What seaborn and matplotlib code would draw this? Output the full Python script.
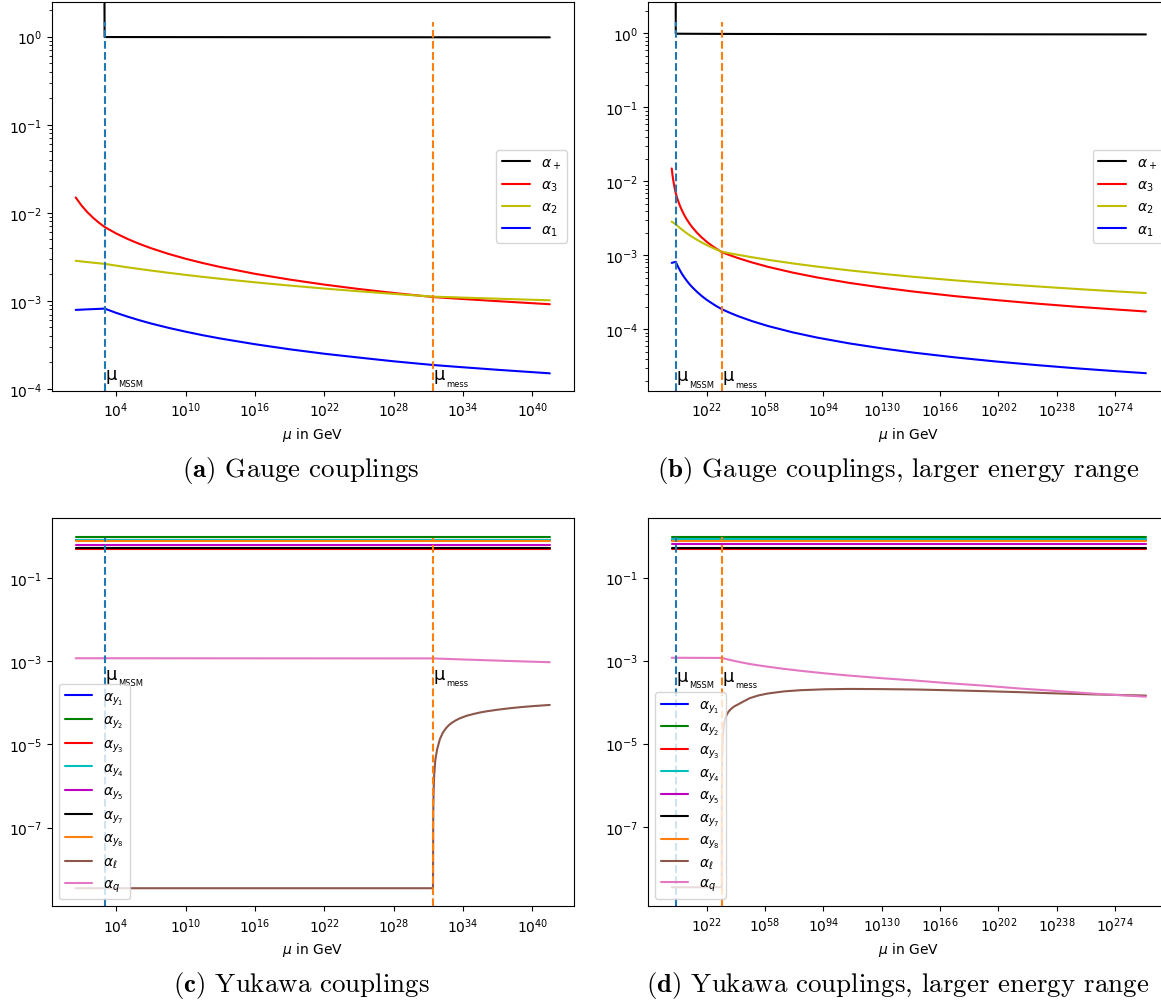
import numpy as np
import matplotlib
matplotlib.use("Agg")
import matplotlib.pyplot as plt
from matplotlib.ticker import FixedLocator, NullLocator, LogLocator, NullFormatter
import seaborn as sns

# ---------------- data (log10 of mu / GeV and couplings) ----------------
log_mu_gauge = [0.5, 1.0, 1.5, 2.0, 2.5, 3.0, 4, 5, 6, 7, 8.5, 10, 11.5, 13, 16, 19, 22, 25,
                28, 31.4, 34, 37, 41.5, 50, 60, 75, 90, 110, 130, 150, 175, 200, 225, 250,
                275, 293]
alpha_3 = [0.01493, 0.01211, 0.01018, 0.00879, 0.00773, 0.00690, 0.005822, 0.005038,
           0.004439, 0.003968, 0.003422, 0.003009, 0.002685, 0.002424, 0.002029, 0.001745,
           0.001530, 0.001363, 0.001229, 0.001105, 0.001049, 0.000992, 0.000916, 0.000801,
           0.000698, 0.000585, 0.000503, 0.000424, 0.000367, 0.000323, 0.000281, 0.000249,
           0.000223, 0.000202, 0.000185, 0.000174]
alpha_2 = [0.00285, 0.002803, 0.002758, 0.002714, 0.002672, 0.002632, 0.002512, 0.002402,
           0.002302, 0.002210, 0.002085, 0.001973, 0.001872, 0.001782, 0.001624, 0.001492,
           0.001380, 0.001284, 0.001200, 0.001117, 0.001089, 0.001058, 0.001015, 0.000942,
           0.000869, 0.000778, 0.000705, 0.000626, 0.000563, 0.000511, 0.000459, 0.000416,
           0.000381, 0.000351, 0.000325, 0.000309]
alpha_1 = [0.000790, 0.000795, 0.000801, 0.000806, 0.000811, 0.000817, 0.000731, 0.000661,
           0.000603, 0.000554, 0.000495, 0.000447, 0.000407, 0.000374, 0.000322, 0.000282,
           0.000251, 0.000227, 0.000206, 0.000187, 0.0001762, 0.0001649, 0.0001504,
           0.0001291, 0.0001106, 9.11e-5, 7.74e-5, 6.45e-5, 5.53e-5, 4.83e-5, 4.18e-5,
           3.68e-5, 3.29e-5, 2.97e-5, 2.71e-5, 2.55e-5]
log_mu_plus = [2.95, 3.0, 10, 20, 31.4, 41.5, 100, 200, 293]
alpha_plus = [40.0, 0.99, 0.988, 0.986, 0.984, 0.982, 0.977, 0.972, 0.968]

log_mu_flat = [0.5, 41.5, 293]
alpha_y1 = [0.80, 0.80, 0.80]
alpha_y2 = [0.95, 0.95, 0.95]
alpha_y3 = [0.49, 0.49, 0.49]
alpha_y4 = [0.83, 0.83, 0.83]
alpha_y5 = [0.63, 0.63, 0.63]
alpha_y7 = [0.525, 0.525, 0.525]
alpha_y8 = [0.75, 0.75, 0.75]

log_mu_yuk = [0.5, 3.0, 31.4, 31.42, 31.45, 31.5, 31.6, 31.75, 32.0, 32.25, 32.5, 32.75,
              33.0, 33.35, 33.7, 34.3, 35.0, 35.5, 36.0, 37.0, 38.0, 39.0, 40.2, 41.5, 45.0,
              48.7, 54, 60, 70, 80, 95, 110, 130, 150, 170, 193, 215, 234, 260, 293]
alpha_l = [3.5e-9, 3.5e-9, 3.5e-9, 2e-7, 7e-7, 1.8e-6, 4.2e-6, 7.5e-6, 1.35e-5, 1.9e-5,
           2.4e-5, 2.85e-5, 3.25e-5, 3.75e-5, 4.2e-5, 4.85e-5, 5.45e-5, 5.85e-5, 6.2e-5,
           6.8e-5, 7.35e-5, 7.85e-5, 8.35e-5, 8.85e-5, 1.05e-4, 1.25e-4, 1.45e-4, 1.62e-4,
           1.82e-4, 1.94e-4, 2.04e-4, 2.08e-4, 2.06e-4, 2.02e-4, 1.94e-4, 1.84e-4, 1.74e-4,
           1.64e-4, 1.54e-4, 1.44e-4]
alpha_q = [1.17e-3, 1.17e-3, 1.16e-3, 1.16e-3, 1.159e-3, 1.158e-3, 1.155e-3, 1.151e-3,
           1.145e-3, 1.138e-3, 1.132e-3, 1.125e-3, 1.119e-3, 1.110e-3, 1.101e-3, 1.087e-3,
           1.071e-3, 1.060e-3, 1.048e-3, 1.027e-3, 1.006e-3, 0.986e-3, 0.963e-3, 0.940e-3,
           0.882e-3, 0.828e-3, 0.769e-3, 7.11e-4, 6.31e-4, 5.68e-4, 4.93e-4, 4.36e-4,
           3.77e-4, 3.33e-4, 2.88e-4, 2.50e-4, 2.13e-4, 1.90e-4, 1.61e-4, 1.35e-4]

log_mu_thresholds = [3.0, 31.4]
threshold_names = ["MSSM", "mess"]
threshold_colors = ["#1f77b4", "#ff7f0e"]

narrow_range = (0.5, 41.5)
wide_range = (0.5, 293.0)
narrow_xticks = [4, 10, 16, 22, 28, 34, 40]
wide_xticks = [22, 58, 94, 130, 166, 202, 238, 274]

captions = [r"$\mathbf{(a)}$ Gauge couplings",
            r"$\mathbf{(b)}$ Gauge couplings, larger energy range",
            r"$\mathbf{(c)}$ Yukawa couplings",
            r"$\mathbf{(d)}$ Yukawa couplings, larger energy range"]

gauge_series = [(log_mu_plus, alpha_plus, "#000000", r"$\alpha_+$"),
                (log_mu_gauge, alpha_3, "#ff0000", r"$\alpha_3$"),
                (log_mu_gauge, alpha_2, "#bfbf00", r"$\alpha_2$"),
                (log_mu_gauge, alpha_1, "#0000ff", r"$\alpha_1$")]
yukawa_series = [(log_mu_flat, alpha_y1, "#0000ff", r"$\alpha_{y_1}$"),
                 (log_mu_flat, alpha_y2, "#008000", r"$\alpha_{y_2}$"),
                 (log_mu_flat, alpha_y3, "#ff0000", r"$\alpha_{y_3}$"),
                 (log_mu_flat, alpha_y4, "#00bfbf", r"$\alpha_{y_4}$"),
                 (log_mu_flat, alpha_y5, "#bf00bf", r"$\alpha_{y_5}$"),
                 (log_mu_flat, alpha_y7, "#000000", r"$\alpha_{y_7}$"),
                 (log_mu_flat, alpha_y8, "#ff7f0e", r"$\alpha_{y_8}$"),
                 (log_mu_yuk, alpha_l, "#8c564b", r"$\alpha_\ell$"),
                 (log_mu_yuk, alpha_q, "#e377c2", r"$\alpha_q$")]

# ---------------- style ----------------
sns.set_theme(style="ticks")
plt.rcParams.update({
    "font.family": ["DejaVu Sans"],
    "font.size": 10, "axes.labelsize": 10, "xtick.labelsize": 10, "ytick.labelsize": 10,
    "legend.fontsize": 10, "axes.edgecolor": "black", "axes.linewidth": 0.8,
    "text.color": "black", "axes.labelcolor": "black",
    "xtick.color": "black", "ytick.color": "black",
    "xtick.major.size": 3.5, "ytick.major.size": 3.5,
    "xtick.minor.size": 2.0, "ytick.minor.size": 2.0,
    "xtick.major.width": 0.8, "ytick.major.width": 0.8,
    "xtick.minor.width": 0.6, "ytick.minor.width": 0.6,
    "lines.linewidth": 1.5, "legend.frameon": True, "legend.framealpha": 0.8,
    "legend.edgecolor": "0.8", "legend.fancybox": True,
    "axes.facecolor": "white", "figure.facecolor": "white",
})

W, H = 1161, 1003
fig = plt.figure(figsize=(W / 100, H / 100), dpi=100)


def add_axes_px(left, top, right, bottom):
    return fig.add_axes([left / W, 1 - bottom / H, (right - left) / W, (bottom - top) / H])


ax_a = add_axes_px(52, 3.3, 573.5, 391.7)
ax_b = add_axes_px(648, 3.3, 1169.6, 391.7)
ax_c = add_axes_px(52, 519.3, 573.5, 907.3)
ax_d = add_axes_px(648, 518.5, 1169.6, 906.7)


def draw_panel(ax, series, wide, ylim, gauge, legend_loc, label_frac, spacing):
    ax.set_xscale("log")
    ax.set_yscale("log")
    lo, hi = wide_range if wide else narrow_range
    pad = 0.05 * (hi - lo)
    xlim = (10.0 ** (lo - pad), 10.0 ** (hi + pad))
    ticks = wide_xticks if wide else narrow_xticks
    ax.xaxis.set_major_locator(FixedLocator([10.0 ** t for t in ticks]))
    ax.xaxis.set_minor_locator(NullLocator())
    if gauge:
        ax.yaxis.set_major_locator(FixedLocator([1e-4, 1e-3, 1e-2, 1e-1, 1e0]))
        ax.yaxis.set_minor_locator(LogLocator(base=10, subs=np.arange(2, 10), numticks=100))
        ax.yaxis.set_minor_formatter(NullFormatter())
    else:
        ax.yaxis.set_major_locator(FixedLocator([1e-7, 1e-5, 1e-3, 1e-1]))
        ax.yaxis.set_minor_locator(NullLocator())
    ax.set_xlim(*xlim)
    ax.set_ylim(*ylim)
    for lg, vals, color, lab in series:
        lg = np.asarray(lg, dtype=float)
        vals = np.asarray(vals, dtype=float)
        keep = lg <= hi
        sns.lineplot(x=10.0 ** lg[keep], y=vals[keep], ax=ax, color=color, label=lab,
                     estimator=None, sort=False, linewidth=1.5)
    for lgt, col in zip(log_mu_thresholds, threshold_colors):
        ax.axvline(10.0 ** lgt, ymin=0, ymax=0.95, color=col, linestyle="--", linewidth=1.5)
    trans = ax.get_xaxis_transform()
    for lgt, name in zip(log_mu_thresholds, threshold_names):
        ax.annotate("μ", xy=(10.0 ** lgt, label_frac), xycoords=trans, xytext=(0.4, 0),
                    textcoords="offset points", fontsize=13, ha="left", va="baseline")
        ax.annotate(name, xy=(10.0 ** lgt, label_frac), xycoords=trans, xytext=(9.4, -4.6),
                    textcoords="offset points", fontsize=6, ha="left", va="baseline")
    ax.set_xlim(*xlim)
    ax.set_ylim(*ylim)
    ax.set_xlabel(r"$\mu$ in GeV")
    ax.set_ylabel("")
    ax.legend(loc=legend_loc, labelspacing=spacing)


draw_panel(ax_a, gauge_series, False, (10 ** -4.02, 10 ** 0.39), True, "center right", 0.029, 0.5)
draw_panel(ax_b, gauge_series, True, (10 ** -4.83, 10 ** 0.42), True, "center right", 0.027, 0.5)
draw_panel(ax_c, yukawa_series, False, (10 ** -8.89, 10 ** 0.43), False, "lower left", 0.587, 0.45)
draw_panel(ax_d, yukawa_series, True, (10 ** -8.90, 10 ** 0.445), False, "lower left", 0.580, 0.37)

caption_pos = [(301, 470), (898, 470), (301, 986), (898, 986)]
for (cx, cy), cap in zip(caption_pos, captions):
    fig.text(cx / W, 1 - cy / H, cap, ha="center", va="center", fontsize=19.4,
             family="cmr10", math_fontfamily="cm")

fig.savefig("out.png", dpi=100)
